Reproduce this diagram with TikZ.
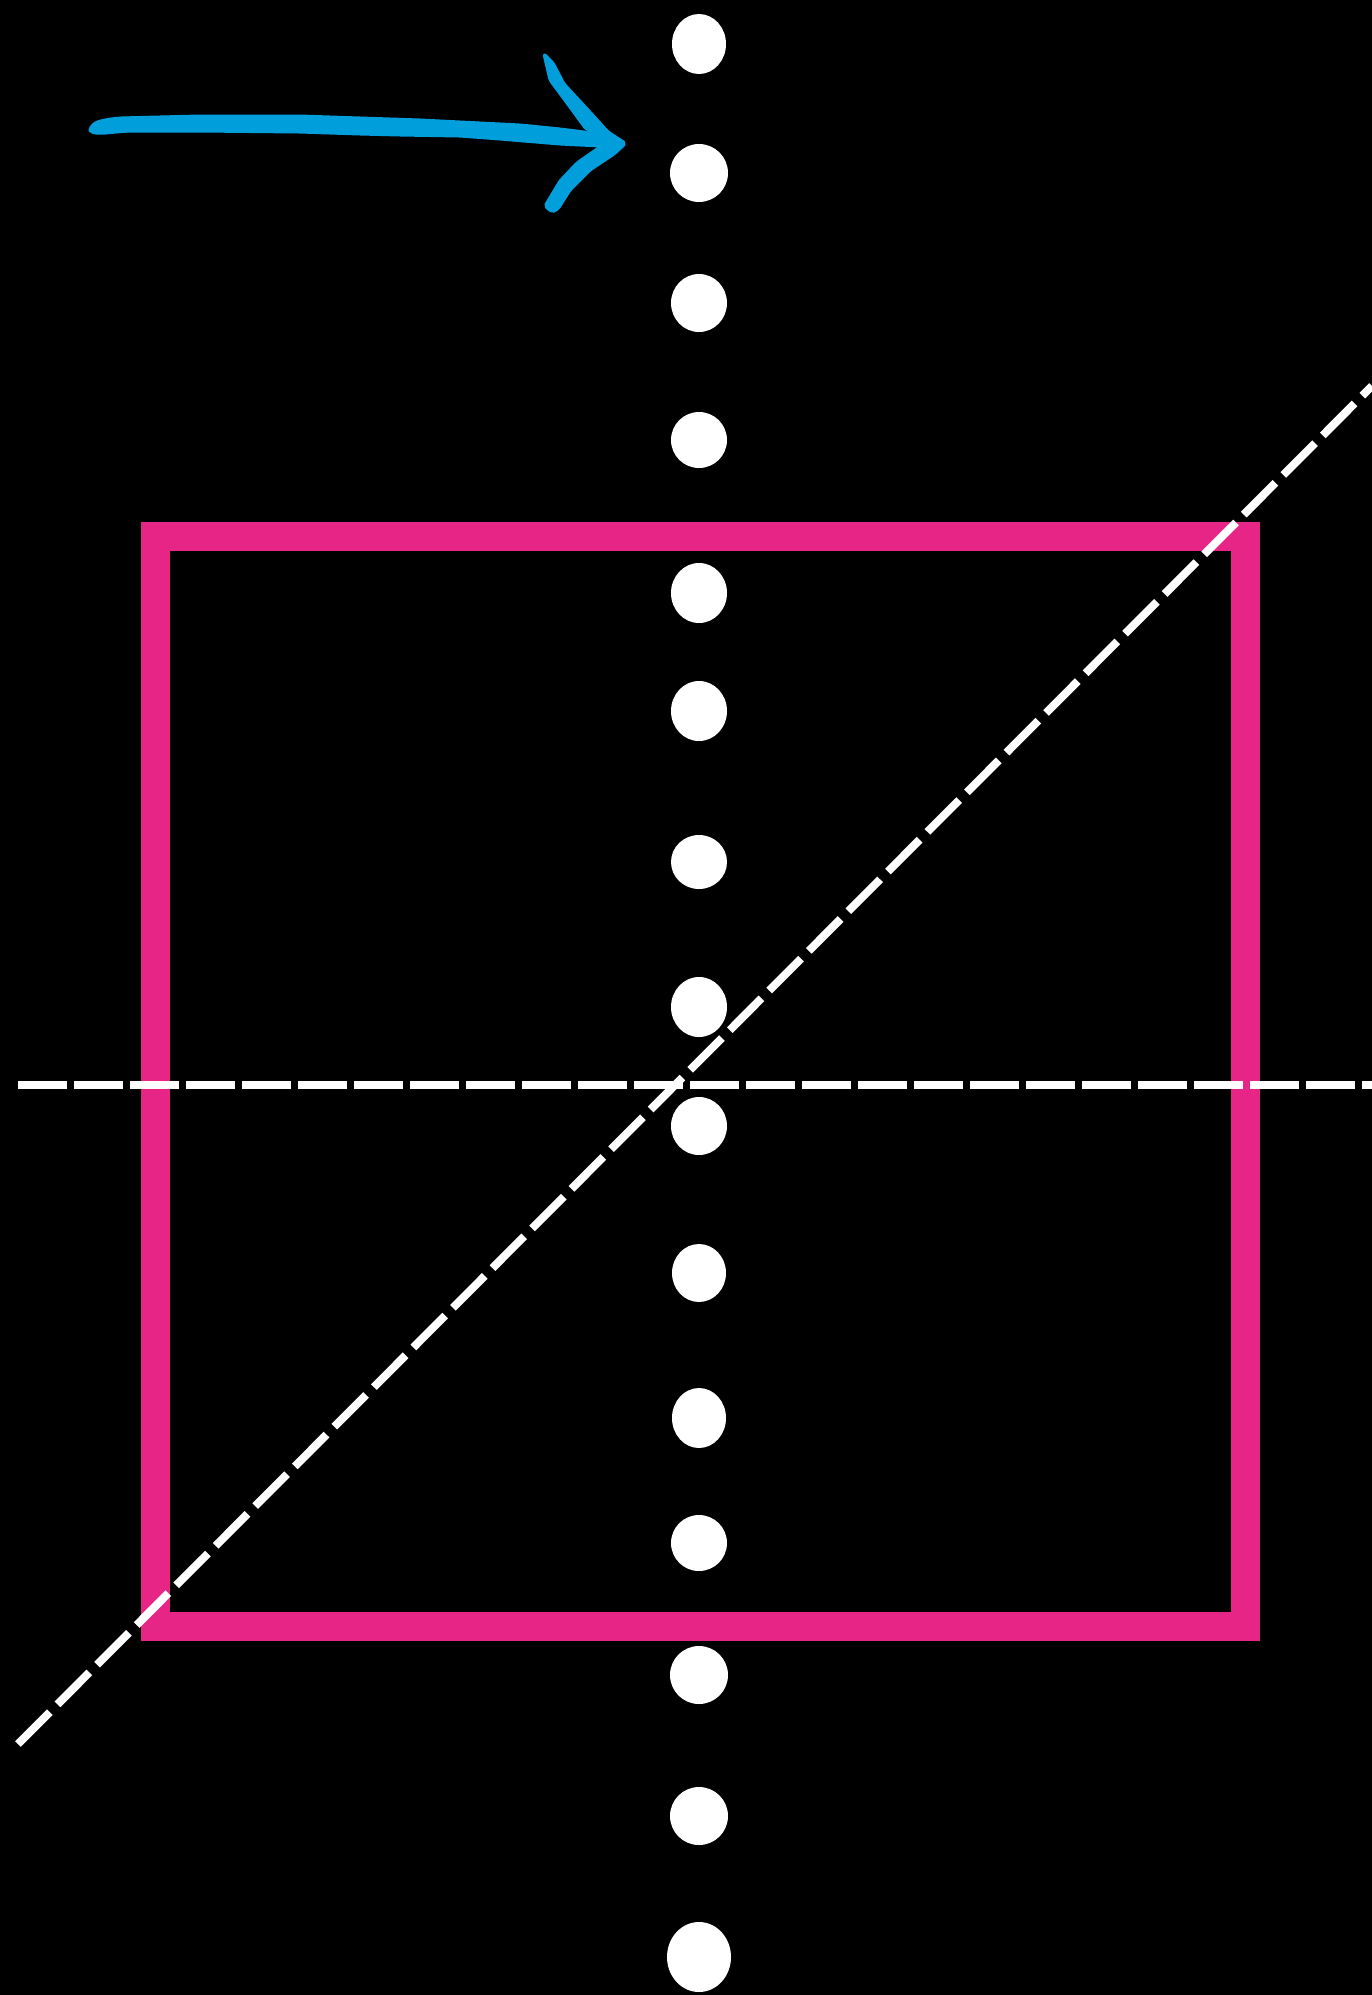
\documentclass[tikz,border=0pt]{standalone}
\definecolor{pinkc}{RGB}{230,37,135}
\definecolor{bluec}{RGB}{0,158,219}
\begin{document}
\begin{tikzpicture}[x=1pt,y=-1pt,
  frame/.style={draw=pinkc,line width=29pt},
  dashln/.style={draw=white,line width=8pt,dash pattern=on 49pt off 7pt},
  diagln/.style={draw=white,line width=8pt,dash pattern=on 45pt off 11pt},
  dot/.style={fill=white},
  arrowfill/.style={fill=bluec,draw=bluec,line width=3pt,line join=round,rounded corners=2pt}]
\useasboundingbox[fill=black] (0,0) rectangle (1372,1995);
% frame
\draw[frame] (155,536) rectangle (1245,1626);
% dots
\foreach \yy/\rx/\ry in {44/27/30,173/29/29,303/28/29,440/28/28,593/28/30,711/28/30,862/28/27,1007/28/30,1126/28/29,1273/27/29,1418/27/30,1543/28/28,1675/29/29,1816/29/29}
  \fill[dot] (699,\yy) ellipse [x radius=\rx, y radius=\ry];
\fill[dot] (699,1957) ellipse [x radius=32, y radius=35];
% dashed lines
\coordinate (h1) at (18,1085);
\coordinate (h2) at (1372,1085);
\coordinate (g1) at (18,1744);
\coordinate (g2) at (1372,386);
\draw[dashln] (h1) -- (h2);
\draw[diagln] (g1) -- (g2);
% arrow shaft
\filldraw[arrowfill] (90,129) .. controls (94,122) and (101,120) .. (120,118)
  -- (200,116) -- (300,116) -- (360,118) -- (420,120) -- (460,122)
  -- (520,125) -- (560,129) -- (600,134) -- (625,144)
  -- (600,146) -- (560,144) -- (500,139) -- (460,136) -- (400,135)
  -- (360,134) -- (300,132) -- (200,131) -- (130,131)
  .. controls (110,132) and (98,135) .. (90,131) -- cycle;
% upper barb
\filldraw[arrowfill] (544,54) -- (553,63) -- (564,84) -- (589,111) -- (608,132)
  -- (625,143) -- (606,136) -- (586,129) -- (567,103) -- (550,80) -- cycle;
% lower barb
\filldraw[arrowfill] (625,144) -- (614,154) -- (590,170) -- (570,190) -- (558,209)
  -- (552,212) -- (545,206) -- (560,181) -- (577,163) -- (600,147) -- cycle;
\end{tikzpicture}
\end{document}
